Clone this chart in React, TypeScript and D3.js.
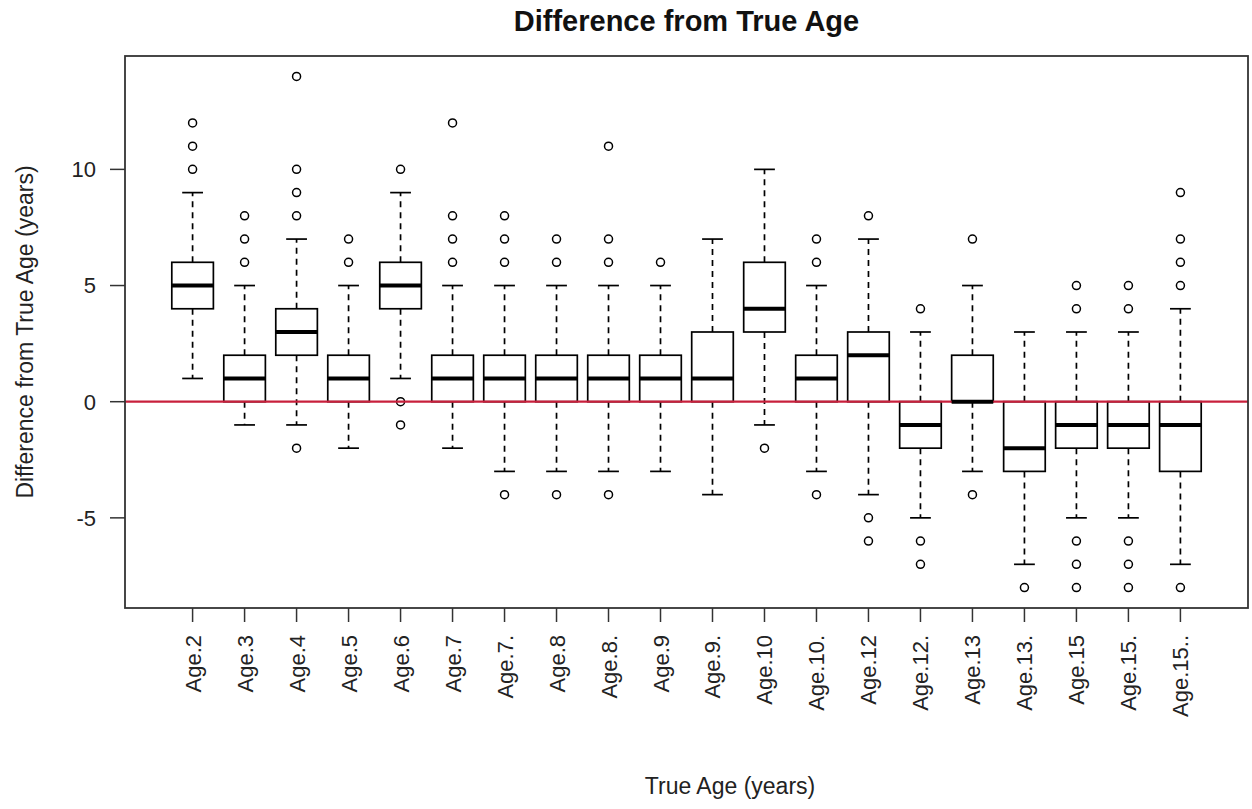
import React from "react";
import * as d3 from "d3";

const categories = ["Age.2","Age.3","Age.4","Age.5","Age.6","Age.7","Age.7.","Age.8","Age.8.","Age.9","Age.9.","Age.10","Age.10.","Age.12","Age.12.","Age.13","Age.13.","Age.15","Age.15.","Age.15.."];
const lowerWhisker = [1,-1,-1,-2,1,-2,-3,-3,-3,-3,-4,-1,-3,-4,-5,-3,-7,-5,-5,-7];
const q1 = [4,0,2,0,4,0,0,0,0,0,0,3,0,0,-2,0,-3,-2,-2,-3];
const median = [5,1,3,1,5,1,1,1,1,1,1,4,1,2,-1,0,-2,-1,-1,-1];
const q3 = [6,2,4,2,6,2,2,2,2,2,3,6,2,3,0,2,0,0,0,0];
const upperWhisker = [9,5,7,5,9,5,5,5,5,5,7,10,5,7,3,5,3,3,3,4];
const outliers = [[10,11,12],[6,7,8],[-2,8,9,10,14],[6,7],[-1,0,10],[6,7,8,12],[-4,6,7,8],[-4,6,7],[-4,6,7,11],[6],[],[-2],[-4,6,7],[-6,-5,8],[-7,-6,4],[-4,7],[-8],[-8,-7,-6,4,5],[-8,-7,-6,4,5],[-8,5,6,7,9]];
const yTicks = [-5, 0, 5, 10];

const title = "Difference from True Age";
const xTitle = "True Age (years)";
const yTitle = "Difference from True Age (years)";

const W = 1252, H = 809;
const plot = { left: 125, right: 1248, top: 56, bottom: 608 };
const FONT = "'Liberation Sans', Arial, sans-serif";

export default function App() {
  const n = categories.length;
  const x = d3.scaleLinear().domain([0.5 - 0.04 * n, n + 0.5 + 0.04 * n]).range([plot.left, plot.right]);
  const allVals = [...lowerWhisker, ...upperWhisker, ...outliers.flat()];
  const lo = d3.min(allVals) as number, hi = d3.max(allVals) as number;
  const pad = (hi - lo) * 0.04;
  const y = d3.scaleLinear().domain([lo - pad, hi + pad]).range([plot.bottom, plot.top]);
  const bw = (x(1) - x(0)) * 0.8;
  const cap = bw * 0.5;

  return (
    <svg width={W} height={H} style={{ position: "absolute", left: 0, top: 0, background: "#fff" }} fontFamily={FONT}>
      <rect x={0} y={0} width={W} height={H} fill="#fff" />
      {categories.map((c, i) => {
        const cx = x(i + 1);
        return (
          <g key={c}>
            <line x1={cx} x2={cx} y1={y(q3[i])} y2={y(upperWhisker[i])} stroke="#000" strokeWidth={1.7} strokeDasharray="6,5" />
            <line x1={cx} x2={cx} y1={y(q1[i])} y2={y(lowerWhisker[i])} stroke="#000" strokeWidth={1.7} strokeDasharray="6,5" />
            <line x1={cx - cap / 2} x2={cx + cap / 2} y1={y(upperWhisker[i])} y2={y(upperWhisker[i])} stroke="#000" strokeWidth={1.7} />
            <line x1={cx - cap / 2} x2={cx + cap / 2} y1={y(lowerWhisker[i])} y2={y(lowerWhisker[i])} stroke="#000" strokeWidth={1.7} />
            <rect x={cx - bw / 2} y={y(q3[i])} width={bw} height={y(q1[i]) - y(q3[i])} fill="#fff" stroke="#000" strokeWidth={1.7} />
            {outliers[i].map((v, j) => (
              <circle key={j} cx={cx} cy={y(v)} r={4} fill="none" stroke="#000" strokeWidth={1.5} />
            ))}
          </g>
        );
      })}
      <line x1={plot.left} x2={plot.right} y1={y(0)} y2={y(0)} stroke="#c8203c" strokeWidth={2.2} />
      {categories.map((c, i) => {
        const cx = x(i + 1);
        return (
          <line key={"m" + c} x1={cx - bw / 2} x2={cx + bw / 2} y1={y(median[i])} y2={y(median[i])} stroke="#000" strokeWidth={4} />
        );
      })}
      <rect x={plot.left} y={plot.top} width={plot.right - plot.left} height={plot.bottom - plot.top} fill="none" stroke="#333" strokeWidth={1.8} />
      {yTicks.map((t) => (
        <g key={t}>
          <line x1={plot.left - 15} x2={plot.left} y1={y(t)} y2={y(t)} stroke="#333" strokeWidth={1.5} />
          <text x={96} y={y(t)} dy="0.36em" textAnchor="end" fontSize={22} fill="#222">{t}</text>
        </g>
      ))}
      {categories.map((c, i) => {
        const cx = x(i + 1);
        return (
          <g key={"t" + c}>
            <line x1={cx} x2={cx} y1={plot.bottom} y2={plot.bottom + 14} stroke="#333" strokeWidth={1.5} />
            <text transform={`translate(${cx + 8},${plot.bottom + 27}) rotate(-90)`} textAnchor="end" fontSize={22} fill="#222">{c}</text>
          </g>
        );
      })}
      <text x={(plot.left + plot.right) / 2} y={31} textAnchor="middle" fontSize={29} fontWeight="bold" fill="#111">{title}</text>
      <text x={730} y={794} textAnchor="middle" fontSize={23} fill="#222">{xTitle}</text>
      <text transform={`translate(33,${(plot.top + plot.bottom) / 2}) rotate(-90)`} textAnchor="middle" fontSize={23} fill="#222">{yTitle}</text>
    </svg>
  );
}
